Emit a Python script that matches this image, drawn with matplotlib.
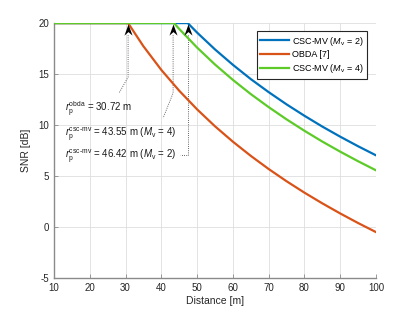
import matplotlib

matplotlib.use("Agg")
import matplotlib.pyplot as plt
from matplotlib.path import Path

plt.rcParams["font.family"] = ["Liberation Sans", "DejaVu Sans"]
plt.rcParams["mathtext.fontset"] = "custom"
plt.rcParams["mathtext.rm"] = "Liberation Sans"
plt.rcParams["mathtext.it"] = "Liberation Sans:italic"
plt.rcParams["axes.unicode_minus"] = False

# Values (SNR in dB vs distance in m)
d_obda = [10, 30.72, 35, 40, 45, 50, 55, 60, 65, 70, 75, 80, 85, 90, 95, 100]
snr_obda = [20, 20, 17.73, 15.41, 13.37, 11.54, 9.88, 8.37, 6.98, 5.69, 4.49,
            3.37, 2.32, 1.33, 0.39, -0.50]

d_mv2 = [10, 47.4, 50, 55, 60, 65, 70, 75, 80, 85, 90, 95, 100]
snr_mv2 = [20, 20, 19.07, 17.42, 15.91, 14.51, 13.23, 12.03, 10.91, 9.85,
           8.86, 7.92, 7.03]

d_mv4 = [10, 43.55, 45, 50, 55, 60, 65, 70, 75, 80, 85, 90, 95, 100]
snr_mv4 = [20, 20, 19.43, 17.60, 15.94, 14.43, 13.04, 11.76, 10.56, 9.44,
           8.38, 7.39, 6.45, 5.56]

labels = [r"CSC-MV ($M_\mathrm{v}$ = 2)", "OBDA [7]", r"CSC-MV ($M_\mathrm{v}$ = 4)"]
colors = ["#0072BD", "#D95319", "#5CCB27"]

# breakpoint annotations: arrow x, text lines
arrow_x = [30.72, 43.3, 47.37]
notes = [
    r"$r_\mathrm{p}^\mathrm{obda}$ = 30.72 m",
    r"$r_\mathrm{p}^\mathrm{csc\text{-}mv}$ = 43.55 m ($M_\mathrm{v}$ = 4)",
    r"$r_\mathrm{p}^\mathrm{csc\text{-}mv}$ = 46.42 m ($M_\mathrm{v}$ = 2)",
]
note_y = [11.32, 8.97, 6.72]

fig = plt.figure(figsize=(4.15, 3.12), dpi=100)
ax = fig.add_axes([0.130, 0.109, 0.776, 0.817])

ax.plot(d_mv2, snr_mv2, color=colors[0], lw=1.6, label=labels[0], zorder=3)
ax.plot(d_obda, snr_obda, color=colors[1], lw=1.6, label=labels[1], zorder=3)
ax.plot(d_mv4, snr_mv4, color=colors[2], lw=1.6, label=labels[2], zorder=3)

# dotted leader lines
dot = dict(color="#333333", lw=0.6, ls=(0, (1, 1.6)), zorder=2)
ax.plot([arrow_x[0], arrow_x[0], 28.2], [18.8, 14.7, 13.14], **dot)
ax.plot([arrow_x[1], arrow_x[1], 40.5], [18.8, 13.14, 10.69], **dot)
ax.plot([arrow_x[2], arrow_x[2], 45.2], [18.8, 7.06, 7.06], **dot)

# notched arrowheads, tip at the marker origin
head = Path([(0, 0), (-4, -11), (0, -7.5), (4, -11), (0, 0)],
            [Path.MOVETO, Path.LINETO, Path.LINETO, Path.LINETO, Path.CLOSEPOLY])
for x in arrow_x:
    ax.plot([x], [19.9], marker=head, ms=16, color="k", mew=0, ls="none", zorder=4)

for txt, y in zip(notes, note_y):
    ax.text(13.1, y, txt, fontsize=7, va="baseline", ha="left", color="#1a1a1a")

ax.set_xlim(10, 100)
ax.set_ylim(-5, 20)
ax.set_xticks(range(10, 101, 10))
ax.set_yticks(range(-5, 21, 5))
ax.grid(True, color="#dedede", lw=0.6)
ax.set_axisbelow(True)
for s in ["top", "right"]:
    ax.spines[s].set_visible(False)
for s in ["left", "bottom"]:
    ax.spines[s].set_color("#8a8a8a")
    ax.spines[s].set_linewidth(1.0)
ax.tick_params(direction="in", length=3, width=0.6, color="#8a8a8a",
               labelsize=7, labelcolor="#262626", pad=3.5)
ax.set_xlabel("Distance [m]", fontsize=7.5, color="#262626", labelpad=2.5)
ax.set_ylabel("SNR [dB]", fontsize=7.5, color="#262626", labelpad=5)

leg = ax.legend(loc="upper right", bbox_to_anchor=(0.972, 0.969), borderaxespad=0,
                fontsize=6.5, fancybox=False, framealpha=1, edgecolor="#262626",
                handlelength=3.2, handletextpad=0.3, borderpad=0.4, labelspacing=0.3)
leg.get_frame().set_linewidth(0.8)

fig.savefig("out.png", dpi=100, facecolor="white")
